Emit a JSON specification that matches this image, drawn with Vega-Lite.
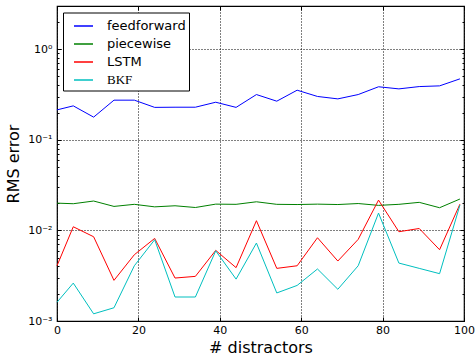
{
  "$schema": "https://vega.github.io/schema/vega-lite/v6.json",
  "width": 407,
  "height": 315,
  "autosize": {"type": "none"},
  "padding": {"left": 57, "top": 6, "right": 11, "bottom": 35},
  "background": "white",
  "config": {
    "view": {"stroke": "black", "strokeWidth": 1.2},
    "font": "DejaVu Sans",
    "axis": {"labelFont": "DejaVu Sans", "titleFont": "DejaVu Sans", "labelColor": "black", "titleColor": "black", "titleFontWeight": "normal", "tickColor": "black", "domain": false}
  },
  "data": {"values": [
    {"x":0,"y":0.214,"s":"feedforward"},{"x":4,"y":0.237,"s":"feedforward"},{"x":9,"y":0.178,"s":"feedforward"},{"x":14,"y":0.274,"s":"feedforward"},{"x":19,"y":0.274,"s":"feedforward"},{"x":24,"y":0.228,"s":"feedforward"},{"x":29,"y":0.229,"s":"feedforward"},{"x":34,"y":0.229,"s":"feedforward"},{"x":39,"y":0.26,"s":"feedforward"},{"x":44,"y":0.228,"s":"feedforward"},{"x":49,"y":0.316,"s":"feedforward"},{"x":54,"y":0.267,"s":"feedforward"},{"x":59,"y":0.353,"s":"feedforward"},{"x":64,"y":0.301,"s":"feedforward"},{"x":69,"y":0.283,"s":"feedforward"},{"x":74,"y":0.316,"s":"feedforward"},{"x":79,"y":0.385,"s":"feedforward"},{"x":84,"y":0.365,"s":"feedforward"},{"x":89,"y":0.387,"s":"feedforward"},{"x":94,"y":0.394,"s":"feedforward"},{"x":99,"y":0.471,"s":"feedforward"},
    {"x":0,"y":0.02,"s":"piecewise"},{"x":4,"y":0.0197,"s":"piecewise"},{"x":9,"y":0.0211,"s":"piecewise"},{"x":14,"y":0.0184,"s":"piecewise"},{"x":19,"y":0.0194,"s":"piecewise"},{"x":24,"y":0.0182,"s":"piecewise"},{"x":29,"y":0.0187,"s":"piecewise"},{"x":34,"y":0.0179,"s":"piecewise"},{"x":39,"y":0.0195,"s":"piecewise"},{"x":44,"y":0.0194,"s":"piecewise"},{"x":49,"y":0.0207,"s":"piecewise"},{"x":54,"y":0.0194,"s":"piecewise"},{"x":59,"y":0.0193,"s":"piecewise"},{"x":64,"y":0.0195,"s":"piecewise"},{"x":69,"y":0.0193,"s":"piecewise"},{"x":74,"y":0.0198,"s":"piecewise"},{"x":79,"y":0.0189,"s":"piecewise"},{"x":84,"y":0.0194,"s":"piecewise"},{"x":89,"y":0.0204,"s":"piecewise"},{"x":94,"y":0.0178,"s":"piecewise"},{"x":99,"y":0.0222,"s":"piecewise"},
    {"x":0,"y":0.00407,"s":"LSTM"},{"x":4,"y":0.01097,"s":"LSTM"},{"x":9,"y":0.00851,"s":"LSTM"},{"x":14,"y":0.00281,"s":"LSTM"},{"x":19,"y":0.00539,"s":"LSTM"},{"x":24,"y":0.00816,"s":"LSTM"},{"x":29,"y":0.00298,"s":"LSTM"},{"x":34,"y":0.00311,"s":"LSTM"},{"x":39,"y":0.00602,"s":"LSTM"},{"x":44,"y":0.00388,"s":"LSTM"},{"x":49,"y":0.0128,"s":"LSTM"},{"x":54,"y":0.00381,"s":"LSTM"},{"x":59,"y":0.00407,"s":"LSTM"},{"x":64,"y":0.0083,"s":"LSTM"},{"x":69,"y":0.00459,"s":"LSTM"},{"x":74,"y":0.00796,"s":"LSTM"},{"x":79,"y":0.0216,"s":"LSTM"},{"x":84,"y":0.00967,"s":"LSTM"},{"x":89,"y":0.0105,"s":"LSTM"},{"x":94,"y":0.00612,"s":"LSTM"},{"x":99,"y":0.0195,"s":"LSTM"},
    {"x":0,"y":0.00161,"s":"BKF"},{"x":4,"y":0.00262,"s":"BKF"},{"x":9,"y":0.0012,"s":"BKF"},{"x":14,"y":0.0014,"s":"BKF"},{"x":19,"y":0.00407,"s":"BKF"},{"x":24,"y":0.00789,"s":"BKF"},{"x":29,"y":0.00184,"s":"BKF"},{"x":34,"y":0.00184,"s":"BKF"},{"x":39,"y":0.00595,"s":"BKF"},{"x":44,"y":0.0029,"s":"BKF"},{"x":49,"y":0.00725,"s":"BKF"},{"x":54,"y":0.00204,"s":"BKF"},{"x":59,"y":0.00247,"s":"BKF"},{"x":64,"y":0.00375,"s":"BKF"},{"x":69,"y":0.00224,"s":"BKF"},{"x":74,"y":0.00407,"s":"BKF"},{"x":79,"y":0.01553,"s":"BKF"},{"x":84,"y":0.00436,"s":"BKF"},{"x":89,"y":0.00381,"s":"BKF"},{"x":94,"y":0.00333,"s":"BKF"},{"x":99,"y":0.019,"s":"BKF"}
  ]},
  "layer": [
    {
      "mark": {"type": "line", "strokeWidth": 1},
      "encoding": {
        "x": {"field": "x", "type": "quantitative", "scale": {"domain": [0, 100], "nice": false, "zero": false},
          "axis": {"orient": "bottom", "title": "# distractors", "titleFontSize": 16, "titlePadding": 4, "labelFontSize": 11, "labelPadding": 7, "values": [0, 20, 40, 60, 80, 100], "grid": true, "gridColor": "black", "gridDash": [1, 2], "gridOpacity": 1, "tickSize": -4, "labelFlush": false}},
        "y": {"field": "y", "type": "quantitative", "scale": {"type": "log", "domain": [0.001, 3], "nice": false},
          "axis": {"orient": "left", "title": "RMS error", "titleFontSize": 16, "titlePadding": 6, "labelFontSize": 11, "labelPadding": 9,
            "values": [0.001,0.002,0.003,0.004,0.005,0.006,0.007,0.008,0.009,0.01,0.02,0.03,0.04,0.05,0.06,0.07,0.08,0.09,0.1,0.2,0.3,0.4,0.5,0.6,0.7,0.8,0.9,1,2,3],
            "labelExpr": "abs(log(datum.value)/LN10 - round(log(datum.value)/LN10)) > 1e-6 ? '' : round(log(datum.value)/LN10) == 0 ? '10⁰' : round(log(datum.value)/LN10) == -1 ? '10⁻¹' : round(log(datum.value)/LN10) == -2 ? '10⁻²' : '10⁻³'",
            "grid": true, "gridColor": "black", "gridDash": [1, 2],
            "gridOpacity": {"condition": {"test": "abs(log(datum.value)/LN10 - round(log(datum.value)/LN10)) < 1e-6", "value": 1}, "value": 0},
            "tickSize": {"condition": {"test": "abs(log(datum.value)/LN10 - round(log(datum.value)/LN10)) < 1e-6", "value": -4}, "value": -2},
            "labelFlush": false, "labelOverlap": false}},
        "color": {"field": "s", "type": "nominal",
          "scale": {"domain": ["feedforward", "piecewise", "LSTM", "BKF"], "range": ["#0000ff", "#008000", "#ff0000", "#00bfbf"]},
          "legend": {"orient": "none", "legendX": 6, "legendY": 6.5, "title": null, "strokeColor": "black", "fillColor": "white", "padding": 3,
            "symbolType": "stroke", "symbolSize": 361, "symbolStrokeWidth": 1.5, "symbolOffset": 7, "labelFontSize": 13, "labelFont": "DejaVu Sans", "labelColor": "black", "rowPadding": 0, "labelOffset": 13, "labelLimit": 200,
            "encode": {"labels": {"update": {"font": {"signal": "datum.label === 'BKF' ? 'Liberation Serif' : 'DejaVu Sans'"}}}}}}
      }
    },
    {
      "mark": {"type": "line", "opacity": 0},
      "encoding": {
        "x": {"field": "x", "type": "quantitative",
          "axis": {"orient": "top", "title": null, "labels": false, "grid": false, "values": [0, 20, 40, 60, 80, 100], "tickSize": -4}},
        "y": {"field": "y", "type": "quantitative",
          "axis": {"orient": "right", "title": null, "labels": false, "grid": false,
            "values": [0.001,0.002,0.003,0.004,0.005,0.006,0.007,0.008,0.009,0.01,0.02,0.03,0.04,0.05,0.06,0.07,0.08,0.09,0.1,0.2,0.3,0.4,0.5,0.6,0.7,0.8,0.9,1,2,3],
            "tickSize": {"condition": {"test": "abs(log(datum.value)/LN10 - round(log(datum.value)/LN10)) < 1e-6", "value": -4}, "value": -2}}},
        "detail": {"field": "s", "type": "nominal"}
      }
    }
  ],
  "resolve": {"axis": {"x": "independent", "y": "independent"}}
}
